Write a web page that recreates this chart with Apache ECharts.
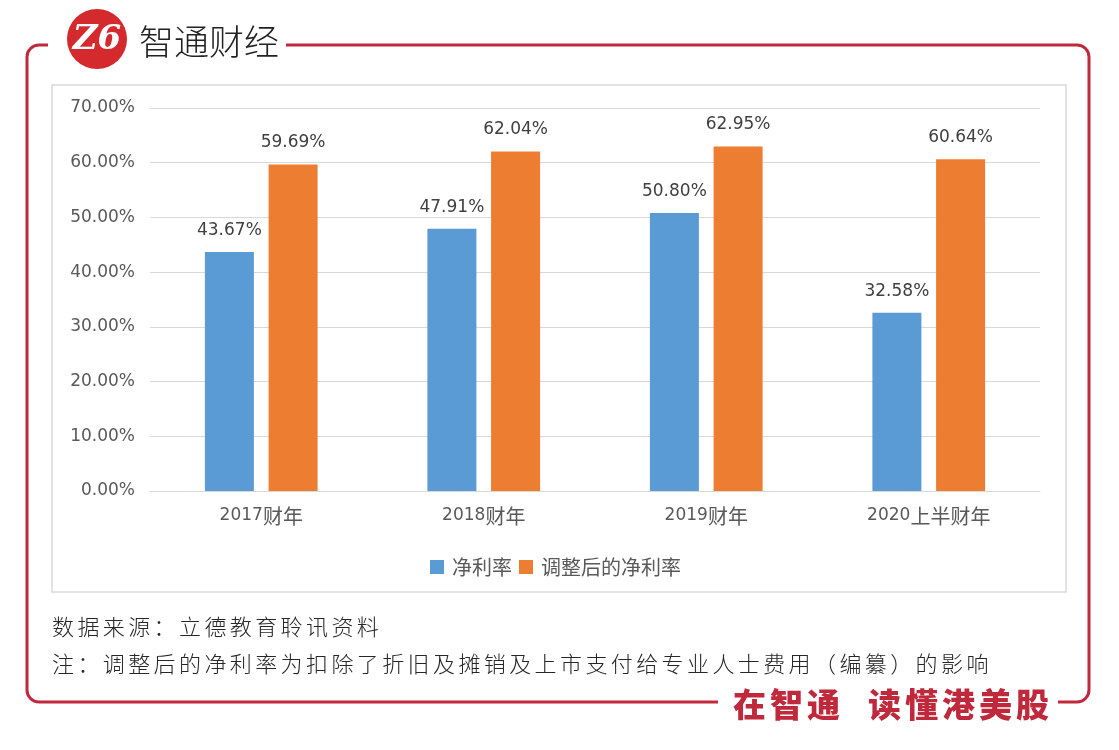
<!DOCTYPE html>
<html>
<head>
<meta charset="utf-8">
<script src="https://cdn.jsdelivr.net/npm/echarts@6/dist/echarts.min.js"></script>
<style>
html,body{margin:0;padding:0;background:#fff;}
#wrap{position:relative;width:1119px;height:750px;overflow:hidden;}
#c{position:absolute;left:0;top:0;width:1119px;height:750px;}
.note{position:absolute;left:52px;font-family:"Noto Sans CJK SC",sans-serif;font-weight:300;font-size:22px;
  letter-spacing:3.4px;color:#262626;white-space:nowrap;line-height:30px;}
.slogan{position:absolute;top:684px;font-family:"Noto Sans CJK SC",sans-serif;font-weight:900;font-size:33px;
  letter-spacing:4px;color:#c0283b;white-space:nowrap;line-height:38px;}
</style>
</head>
<body>
<div id="wrap">
<div id="c"></div>
<div class="note" id="src" style="top:610px"></div>
<div class="note" id="note" style="top:647px"></div>
<div class="slogan" id="s1" style="left:733px"></div>
<div class="slogan" id="s2" style="left:868px"></div>
</div>
<script>
const categories = ['2017财年', '2018财年', '2019财年', '2020上半财年'];
const netMargin = [43.67, 47.91, 50.80, 32.58];
const adjustedNetMargin = [59.69, 62.04, 62.95, 60.64];
const seriesNames = ['净利率', '调整后的净利率'];
const yTicks = { min: 0, max: 70, interval: 10 };
const titleText = '智通财经';
const sourceText = '数据来源：立德教育聆讯资料';
const noteText = '注：调整后的净利率为扣除了折旧及摊销及上市支付给专业人士费用（编纂）的影响';
const sloganParts = ['在智通', '读懂港美股'];

document.getElementById('src').textContent = sourceText;
document.getElementById('note').textContent = noteText;
document.getElementById('s1').textContent = sloganParts[0];
document.getElementById('s2').textContent = sloganParts[1];

const RED = '#c0283b';
const chart = echarts.init(document.getElementById('c'), null, {renderer: 'canvas'});
const cjk = '"Noto Sans CJK SC", "Noto Sans", sans-serif';
const num = '"DejaVu Sans", "Noto Sans CJK SC", sans-serif';

chart.setOption({
  backgroundColor: 'transparent',
  animation: false,
  grid: { left: 150, right: 79, top: 108, bottom: 259, containLabel: false },
  legend: {
    data: seriesNames,
    top: 552,
    left: 425,
    itemWidth: 14,
    itemHeight: 14,
    itemGap: 7,
    icon: 'rect',
    textStyle: { fontSize: 20, color: '#595959', fontFamily: cjk, padding: [0, 0, 0, 3] }
  },
  xAxis: {
    type: 'category',
    data: categories,
    axisLine: { lineStyle: { color: '#d9d9d9', width: 1 } },
    axisTick: { show: false },
    axisLabel: {
      margin: 15,
      formatter: v => v.replace(/^(\d+)(.*)$/, '{n|$1}{c|$2}'),
      rich: {
        n: { fontSize: 17, color: '#595959', fontFamily: num },
        c: { fontSize: 20, color: '#595959', fontFamily: cjk }
      }
    }
  },
  yAxis: {
    type: 'value',
    min: yTicks.min, max: yTicks.max, interval: yTicks.interval,
    axisLine: { show: false },
    axisTick: { show: false },
    splitLine: { lineStyle: { color: '#d9d9d9', width: 1 } },
    axisLabel: { fontSize: 17, color: '#595959', margin: 15, fontFamily: num,
      formatter: v => v.toFixed(2) + '%' }
  },
  series: [
    {
      name: seriesNames[0], type: 'bar', data: netMargin,
      barWidth: 49, barGap: '30%',
      itemStyle: { color: '#5b9bd5' },
      label: { show: true, position: 'top', distance: 13, fontSize: 17, color: '#404040', fontFamily: num,
        formatter: p => p.value.toFixed(2) + '%' }
    },
    {
      name: seriesNames[1], type: 'bar', data: adjustedNetMargin,
      barWidth: 49, barGap: '30%',
      itemStyle: { color: '#ed7d31' },
      label: { show: true, position: 'top', distance: 13, fontSize: 17, color: '#404040', fontFamily: num,
        formatter: p => p.value.toFixed(2) + '%' }
    }
  ],
  graphic: [
    { type: 'rect', z: -10, shape: { x: 27, y: 45, width: 1062, height: 657, r: 12 },
      style: { fill: 'none', stroke: RED, lineWidth: 3 } },
    { type: 'rect', z: -9, shape: { x: 48, y: 35, width: 238, height: 20 }, style: { fill: '#fff' } },
    { type: 'rect', z: -9, shape: { x: 718, y: 690, width: 340, height: 25 }, style: { fill: '#fff' } },
    { type: 'rect', z: -8, shape: { x: 52, y: 85, width: 1014, height: 507 },
      style: { fill: 'none', stroke: '#d9d9d9', lineWidth: 1.5 } },
    { type: 'circle', z: 5, shape: { cx: 97, cy: 39, r: 30 }, style: { fill: '#d42a2e' } },
    { type: 'text', z: 6, x: 97, y: 40, style: { text: 'Z6', fill: '#fff', fontSize: 34, fontWeight: 'bold',
        fontStyle: 'italic', fontFamily: '"DejaVu Serif", serif', align: 'center', verticalAlign: 'middle' } },
    { type: 'text', z: 6, x: 139, y: 42, style: { text: titleText, fill: '#222', fontSize: 35,
        fontFamily: cjk, fontWeight: 300, verticalAlign: 'middle' } }
  ]
});
</script>
</body>
</html>
